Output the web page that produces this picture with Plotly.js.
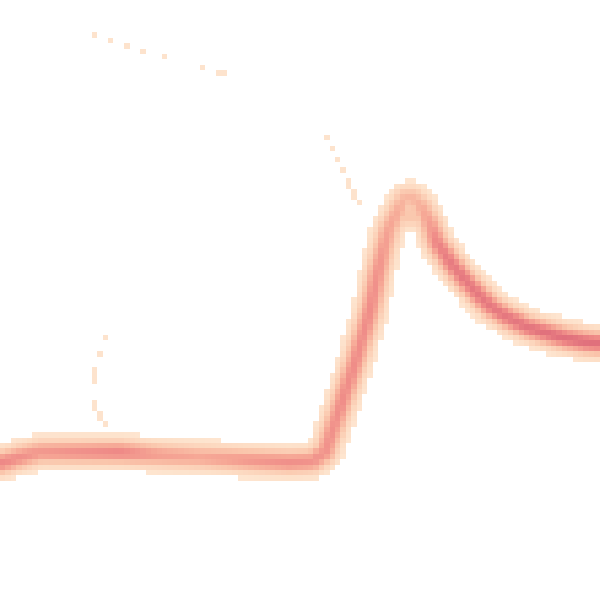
<!DOCTYPE html>
<html>
<head>
<meta charset="utf-8">
<script src="https://cdn.plot.ly/plotly-3.0.1.min.js"></script>
<style>html,body{margin:0;padding:0;background:#fff;}#chart{width:600px;height:600px;}</style>
</head>
<body>
<div id="chart"></div>
<script>
// Ridge of the density band (in plot units 0..600, y downward)
const ridgeX = [0, 20, 40, 80, 120, 160, 200, 250, 290, 312, 325, 340, 355, 370, 378, 388, 398, 405, 413, 422, 430, 437, 450, 463, 477, 490, 507, 527, 547, 565, 587, 610];
const ridgeY = [463, 457, 452, 452, 452, 455, 457, 460, 462, 461, 452, 407, 362, 310, 270, 230, 210, 198, 198, 208, 224, 243, 262, 278, 293, 306, 317, 327, 333, 338, 342, 344];
const ridgeDensity = [0.85, 0.8, 0.75, 0.8, 0.85, 0.7, 0.65, 0.75, 0.8, 0.78, 0.78, 0.82, 0.82, 0.82, 0.78, 0.68, 0.62, 0.55, 0.55, 0.62, 0.72, 0.88, 0.93, 0.95, 0.95, 0.95, 0.95, 0.97, 1.0, 1.0, 1.0, 1.0];
// Secondary faint branch under the peak
const branchX = [386, 398, 425, 433];
const branchY = [232, 216, 216, 228];
const branchDensity = [0.45, 0.45, 0.45, 0.45];
// Sparse isolated cells (column, row)
const dotCol = [17, 20, 23, 26, 30, 37, 40, 41, 60, 61, 62, 63, 64, 64, 65, 65, 66, 19, 18, 17, 17, 17, 17, 17, 18, 18, 19];
const dotRow = [6, 7, 8, 9, 10, 12, 13, 13, 25, 27, 29, 31, 33, 34, 35, 36, 37, 62, 65, 68, 69, 70, 74, 75, 76, 77, 78];
const dotValue = 0.12;

const cell = 5.4, nCols = 112, nRows = 112, spread = 8.8, floor = 0.08;

function segField(px, py, xs, ys, ds) {
  let best = 0;
  for (let k = 0; k < xs.length - 1; k++) {
    const ax = xs[k], ay = ys[k], bx = xs[k + 1], by = ys[k + 1];
    const vx = bx - ax, vy = by - ay;
    const L2 = vx * vx + vy * vy;
    let t = L2 > 0 ? ((px - ax) * vx + (py - ay) * vy) / L2 : 0;
    t = Math.max(0, Math.min(1, t));
    const qx = ax + t * vx, qy = ay + t * vy;
    const d2 = (px - qx) * (px - qx) + (py - qy) * (py - qy);
    const inten = ds[k] + t * (ds[k + 1] - ds[k]);
    const v = inten * Math.exp(-d2 / (2 * spread * spread));
    if (v > best) best = v;
  }
  return best;
}

const z = [];
for (let r = 0; r < nRows; r++) {
  const row = [];
  const py = (r + 0.5) * cell;
  for (let c = 0; c < nCols; c++) {
    const px = (c + 0.5) * cell;
    let v = Math.max(segField(px, py, ridgeX, ridgeY, ridgeDensity),
                     segField(px, py, branchX, branchY, branchDensity));
    row.push(v >= floor ? v : null);
  }
  z.push(row);
}
for (let i = 0; i < dotCol.length; i++) {
  const r = dotRow[i], c = dotCol[i];
  if (z[r][c] === null) z[r][c] = dotValue;
}

const trace = {
  type: 'heatmap',
  z: z,
  x0: cell / 2, dx: cell,
  y0: cell / 2, dy: cell,
  zmin: 0, zmax: 1,
  zsmooth: false,
  showscale: false,
  hoverinfo: 'skip',
  colorscale: [
    [0, 'rgb(254,234,215)'],
    [0.2, 'rgb(253,222,198)'],
    [0.45, 'rgb(250,198,172)'],
    [0.65, 'rgb(246,168,150)'],
    [0.85, 'rgb(238,136,134)'],
    [1, 'rgb(224,112,124)']
  ]
};

const layout = {
  width: 600, height: 600,
  margin: {l: 0, r: 0, t: 0, b: 0, pad: 0},
  paper_bgcolor: '#ffffff', plot_bgcolor: '#ffffff',
  xaxis: {range: [0, 600], visible: false, fixedrange: true},
  yaxis: {range: [600, 0], visible: false, fixedrange: true},
  showlegend: false
};

Plotly.newPlot('chart', [trace], layout, {staticPlot: true, displayModeBar: false});
</script>
</body>
</html>
